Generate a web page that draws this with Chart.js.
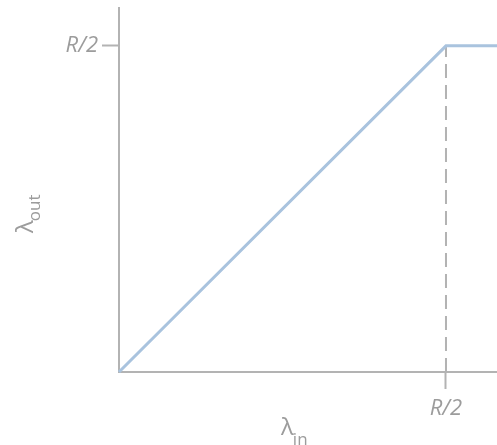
<!DOCTYPE html>
<html>
<head>
<meta charset="utf-8">
<script src="https://cdn.jsdelivr.net/npm/chart.js@4"></script>
<style>
  html, body { margin: 0; padding: 0; background: #fff; }
  #wrap { width: 497px; height: 445px; }
</style>
</head>
<body>
<div id="wrap"><canvas id="demand-chart"></canvas></div>
<script>
// throughput vs offered load, in units of R
const lambdaIn = [0, 0.5, 0.578];
const lambdaOut = [0, 0.5, 0.5];
const kneeX = [0.5, 0.5];
const kneeY = [0, 0.5];
const xTicks = [0.5];
const yTicks = [0.5];
const tickLabel = 'R/2';
const xMax = 0.578;
const yMax = 0.558;

const gray = '#b3b3b3';
const textGray = '#9c9c9c';

// axis titles with subscripts, drawn as canvas text
const axisTitles = {
  id: 'axisTitles',
  afterDraw(chart) {
    const ctx = chart.ctx;
    ctx.save();
    ctx.fillStyle = textGray;
    ctx.textBaseline = 'alphabetic';

    // x title
    ctx.font = '24px "Open Sans"';
    let x = 281, y = 435;
    ctx.fillText('λ', x, y);
    let w = ctx.measureText('λ').width;
    ctx.font = '17px "Open Sans"';
    ctx.fillText('in', x + w - 1, y + 10);

    // y title, rotated
    ctx.translate(33, 233);
    ctx.rotate(-Math.PI / 2);
    ctx.font = '24px "Open Sans"';
    ctx.fillText('λ', 0, 0);
    w = ctx.measureText('λ').width;
    ctx.font = '17px "Open Sans"';
    ctx.fillText('out', w - 1, 7);
    ctx.restore();
  }
};

function scaleOpts(ticksList, max, size, pad) {
  return {
    type: 'linear',
    min: 0,
    max: max,
    afterBuildTicks: (s) => { s.ticks = ticksList.map(v => ({ value: v })); },
    afterFit: (s) => {
      if (s.isHorizontal()) {
        s.height = size;
        s.paddingLeft = 0; s.paddingRight = 0;
      } else {
        s.width = size;
        s.paddingTop = 0; s.paddingBottom = 0;
      }
    },
    grid: {
      display: true,
      drawOnChartArea: false,
      drawTicks: true,
      tickLength: 17,
      tickWidth: 2,
      tickColor: gray,
      color: gray
    },
    border: { display: true, color: gray, width: 2 },
    ticks: {
      callback: () => tickLabel,
      color: textGray,
      font: { family: '"Open Sans"', size: 22, style: 'italic' },
      padding: pad,
      maxRotation: 0
    }
  };
}

const ctx = document.getElementById('demand-chart');

new Chart(ctx, {
  type: 'scatter',
  data: {
    datasets: [
      {
        data: lambdaIn.map((v, i) => ({ x: v, y: lambdaOut[i] })),
        showLine: true,
        borderColor: '#a9c3de',
        borderWidth: 3,
        pointRadius: 0,
        clip: false
      },
      {
        data: kneeX.map((v, i) => ({ x: v, y: kneeY[i] })),
        showLine: true,
        borderColor: gray,
        borderWidth: 2,
        borderDash: [14, 7],
        pointRadius: 0
      }
    ]
  },
  options: {
    responsive: true,
    maintainAspectRatio: false,
    animation: false,
    layout: { padding: { top: 8, right: 0, left: 0, bottom: 0 } },
    plugins: {
      legend: { display: false },
      tooltip: { enabled: false }
    },
    scales: {
      x: scaleOpts(xTicks, xMax, 73, 7),
      y: scaleOpts(yTicks, yMax, 119, 4)
    }
  },
  plugins: [axisTitles]
});
</script>
</body>
</html>
